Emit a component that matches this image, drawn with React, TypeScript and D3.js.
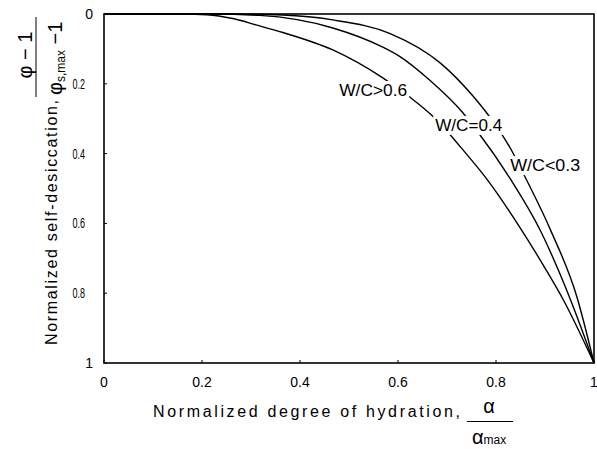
import React from "react";
import * as d3 from "d3";

const xTicks = [0, 0.2, 0.4, 0.6, 0.8, 1];
const yTicks = [0, 0.2, 0.4, 0.6, 0.8, 1];
const xTickLabels = ["0", "0.2", "0.4", "0.6", "0.8", "1"];
const yTickLabels = ["0", "0.2", "0.4", "0.6", "0.8", "1"];

// W/C > 0.6
const alphaA = [0, 0.16, 0.21, 0.263, 0.31, 0.365, 0.467, 0.569, 0.624, 0.671, 0.7, 0.727, 0.784, 0.849, 0.9, 0.937, 1];
const dryA = [0, 0, 0.002, 0.013, 0.031, 0.053, 0.103, 0.183, 0.238, 0.293, 0.336, 0.38, 0.478, 0.612, 0.728, 0.818, 1];
// W/C = 0.4
const alphaB = [0, 0.22, 0.318, 0.467, 0.569, 0.604, 0.665, 0.731, 0.763, 0.829, 0.89, 0.951, 1];
const dryB = [0, 0, 0.004, 0.04, 0.095, 0.122, 0.19, 0.281, 0.338, 0.472, 0.619, 0.815, 1];
// W/C < 0.3
const alphaC = [0, 0.25, 0.365, 0.467, 0.584, 0.686, 0.753, 0.778, 0.808, 0.833, 0.855, 0.91, 0.965, 1];
const dryC = [0, 0, 0.003, 0.017, 0.056, 0.14, 0.235, 0.278, 0.336, 0.394, 0.455, 0.615, 0.81, 1];

const seriesNames = ["W/C>0.6", "W/C=0.4", "W/C<0.3"];
const labelAlpha = [0.48, 0.676, 0.829];
const labelDry = [0.235, 0.335, 0.45];
const labelWidths = [68, 67, 70];

const W = 597;
const H = 449;
const M = { left: 104, right: 3, top: 14, bottom: 86 };
const FONT = "'Liberation Sans', Arial, Helvetica, sans-serif";

export default function App() {
  const x = d3.scaleLinear().domain([0, 1]).range([M.left, W - M.right]);
  const y = d3.scaleLinear().domain([0, 1]).range([M.top, H - M.bottom]);
  const line = d3
    .line<[number, number]>()
    .x((d) => x(d[0]))
    .y((d) => y(d[1]))
    .curve(d3.curveMonotoneX);

  const series = [
    d3.zip(alphaA, dryA) as [number, number][],
    d3.zip(alphaB, dryB) as [number, number][],
    d3.zip(alphaC, dryC) as [number, number][],
  ];

  const x0 = x(0), x1 = x(1), y0 = y(0), y1 = y(1);

  return (
    <svg
      width={W}
      height={H}
      style={{ position: "absolute", left: 0, top: 0, background: "#fff" }}
      fontFamily={FONT}
    >
      <rect x={0} y={0} width={W} height={H} fill="#fff" />
      {series.map((s, i) => (
        <path key={i} d={line(s) || ""} fill="none" stroke="#000" strokeWidth={1.4} />
      ))}
      {seriesNames.map((n, i) => {
        const lx = x(labelAlpha[i]);
        const ly = y(labelDry[i]);
        return (
          <g key={n}>
            <rect x={lx - 2} y={ly - 15} width={labelWidths[i] + 4} height={19} fill="#fff" />
            <text x={lx} y={ly} fontSize={16.5} textLength={labelWidths[i]} lengthAdjust="spacingAndGlyphs" fill="#000">
              {n}
            </text>
          </g>
        );
      })}
      {/* frame */}
      <rect x={x0} y={y0} width={x1 - x0} height={y1 - y0} fill="none" stroke="#000" strokeWidth={1.6} />
      {/* ticks */}
      {yTicks.map((t) => (
        <line key={"yt" + t} x1={x0} x2={x0 + 3} y1={y(t)} y2={y(t)} stroke="#000" strokeWidth={1} />
      ))}
      {xTicks.map((t) => (
        <line key={"xt" + t} x1={x(t)} x2={x(t)} y1={y1} y2={y1 - 3} stroke="#000" strokeWidth={1} />
      ))}
      {/* tick labels */}
      {xTicks.map((t, i) => (
        <text key={"xl" + t} x={x(t)} y={y1 + 24} fontSize={14} textAnchor="middle" fill="#000">
          {xTickLabels[i]}
        </text>
      ))}
      {yTicks.map((t, i) => {
        const lab = yTickLabels[i];
        const dec = lab.includes(".");
        return (
          <text
            key={"yl" + t}
            x={dec ? x0 - 19 : x0 - 11}
            y={y(t) + 5}
            fontSize={14}
            textAnchor="end"
            fill="#000"
            {...(dec ? { textLength: 12.5, lengthAdjust: "spacingAndGlyphs" } : {})}
          >
            {lab}
          </text>
        );
      })}
      {/* x axis title */}
      <text x={153} y={417} fontSize={16} textLength={307} lengthAdjust="spacing" fill="#000">
        Normalized degree of hydration,
      </text>
      <text x={489} y={413} fontSize={20} textAnchor="middle" fill="#000">α</text>
      <line x1={467} x2={513} y1={421.5} y2={421.5} stroke="#000" strokeWidth={1} />
      <text x={472} y={444} fontSize={20} fill="#000">
        α<tspan fontSize={12} dy={0}>max</tspan>
      </text>
      {/* y axis title */}
      <g transform="translate(57,345) rotate(-90)">
        <text x={0} y={0} fontSize={16} textLength={245} lengthAdjust="spacing" fill="#000">
          Normalized self-desiccation,
        </text>
      </g>
      <g transform="translate(32,55) rotate(-90)">
        <text x={0} y={0} fontSize={20} textAnchor="middle" fill="#000">φ − 1</text>
      </g>
      <line x1={36} x2={36} y1={17} y2={97} stroke="#000" strokeWidth={1} />
      <g transform="translate(62,95) rotate(-90)">
        <text x={0} y={0} fontSize={20} fill="#000">
          φ<tspan fontSize={12} dy={3}>s,max</tspan>
          <tspan dy={-3}> −1</tspan>
        </text>
      </g>
    </svg>
  );
}
